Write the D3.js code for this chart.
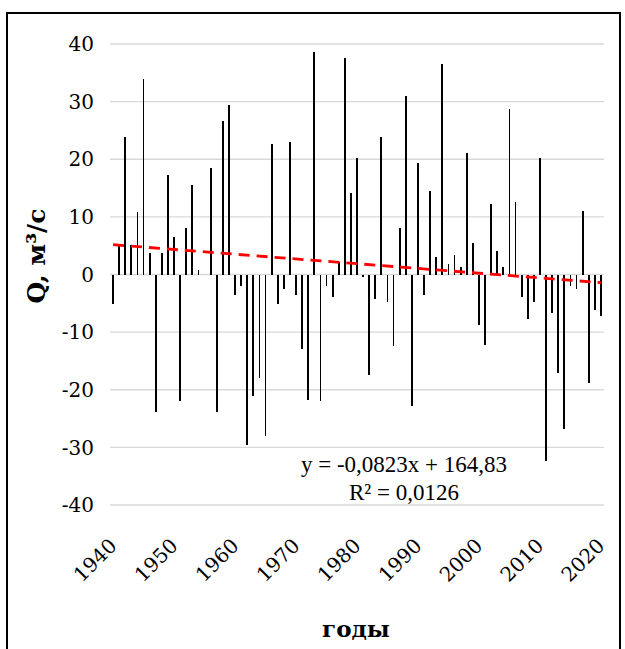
<!DOCTYPE html>
<html>
<head>
<meta charset="utf-8">
<script src="https://cdn.jsdelivr.net/npm/d3@7"></script>
<style>
  body { margin: 0; background: #fff; }
  text { fill: #000; }
</style>
</head>
<body>
<svg id="chart" width="625" height="649"></svg>
<script>
"use strict";

// годы 1940..2020, отклонения расхода Q, м3/с
const years = d3.range(1940, 2021);
const values = [
  -5.2, 4.9, 23.9, 5.2, 10.8, 34.0, 3.8, -23.8, 3.8, 17.2,
  6.5, -22.0, 8.0, 15.5, 0.7, 0, 18.5, -23.8, 26.7, 29.4,
  -3.6, -2.0, -29.6, -21.0, -17.9, -28.1, 22.7, -5.1, -2.6, 23.0,
  -3.6, -13.0, -21.7, 38.6, -21.9, -2.0, -3.9, 2.1, 37.6, 14.2,
  20.3, -0.5, -17.4, -4.2, 23.9, -4.8, -12.4, 8.0, 31.0, -22.9,
  19.4, -3.6, 14.5, 3.1, 36.6, 1.9, 3.4, 1.3, 21.1, 5.5,
  -8.8, -12.2, 12.3, 4.1, 1.3, 28.8, 12.6, -3.9, -7.8, -4.8,
  20.3, -32.3, -6.7, -17.1, -26.8, -2.0, -2.6, 11.0, -18.9, -6.1,
  -7.2
];
const xTicks = [1940, 1950, 1960, 1970, 1980, 1990, 2000, 2010, 2020];
const yTicks = [-40, -30, -20, -10, 0, 10, 20, 30, 40];
const trendSlope = -0.0823;
const trendIntercept = 164.83;
const trendLabel = ["y = -0,0823x + 164,83", "R\u00b2 = 0,0126"];

const data = years.map((yr, i) => ({year: yr, val: values[i]}));

const svg = d3.select("#chart");
const width = +svg.attr("width");
const height = +svg.attr("height");

svg.append("rect")
   .attr("width", width).attr("height", height)
   .attr("fill", "#fff");

// рамка
svg.append("rect")
   .attr("x", 7).attr("y", 13)
   .attr("width", 613).attr("height", 660)
   .attr("fill", "none")
   .attr("stroke", "#000")
   .attr("stroke-width", 2);

const x = d3.scaleLinear().domain([1939.5, 2020.5]).range([110, 604]);
const y = d3.scaleLinear().domain([-40, 40]).range([505, 44]);

const serif = "'DejaVu Serif', 'Liberation Serif', serif";

// сетка
svg.append("g")
   .selectAll("line")
   .data(yTicks)
   .enter()
   .append("line")
   .attr("x1", x.range()[0]).attr("x2", x.range()[1])
   .attr("y1", d => y(d)).attr("y2", d => y(d))
   .attr("stroke", "#d9d9d9")
   .attr("stroke-width", 1.3);

// подписи оси Y
svg.append("g")
   .selectAll("text")
   .data(yTicks)
   .enter()
   .append("text")
   .attr("x", 94)
   .attr("y", d => y(d))
   .attr("dy", "0.36em")
   .attr("text-anchor", "end")
   .style("font-family", serif)
   .style("font-size", "20px")
   .text(d => d);

// столбики
const barW = 1.8;
svg.append("g")
   .attr("shape-rendering", "crispEdges")
   .selectAll("rect")
   .data(data)
   .enter()
   .append("rect")
   .attr("x", d => x(d.year) - barW / 2)
   .attr("y", d => y(Math.max(0, d.val)))
   .attr("width", barW)
   .attr("height", d => Math.abs(y(d.val) - y(0)))
   .attr("fill", "#000");

// линия тренда
const trend = d3.line()
   .x(d => x(d))
   .y(d => y(trendSlope * d + trendIntercept));

svg.append("path")
   .datum([years[0], years[years.length - 1]])
   .attr("d", trend)
   .attr("fill", "none")
   .attr("stroke", "#ff0000")
   .attr("stroke-width", 2.8)
   .attr("stroke-dasharray", "11,7");

// подписи оси X
svg.append("g")
   .selectAll("text")
   .data(xTicks)
   .enter()
   .append("text")
   .attr("transform", d => "translate(" + (x(d) - 5) + ",537) rotate(-45)")
   .attr("text-anchor", "end")
   .attr("dy", "0.7em")
   .style("font-family", serif)
   .style("font-size", "20px")
   .text(d => d);

// уравнение тренда
svg.append("g")
   .selectAll("text")
   .data(trendLabel)
   .enter()
   .append("text")
   .attr("x", 404)
   .attr("y", (d, i) => 472 + i * 28)
   .attr("text-anchor", "middle")
   .style("font-family", "'Liberation Serif', serif")
   .style("font-size", "23px")
   .text(d => d);

// названия осей
svg.append("text")
   .attr("transform", "translate(45,256) rotate(-90)")
   .attr("text-anchor", "middle")
   .style("font-family", serif)
   .style("font-size", "25px")
   .style("font-weight", "bold")
   .text("Q, м\u00b3/с");

svg.append("text")
   .attr("x", 356)
   .attr("y", 637)
   .attr("text-anchor", "middle")
   .style("font-family", serif)
   .style("font-size", "23px")
   .style("font-weight", "bold")
   .text("годы");
</script>
</body>
</html>
